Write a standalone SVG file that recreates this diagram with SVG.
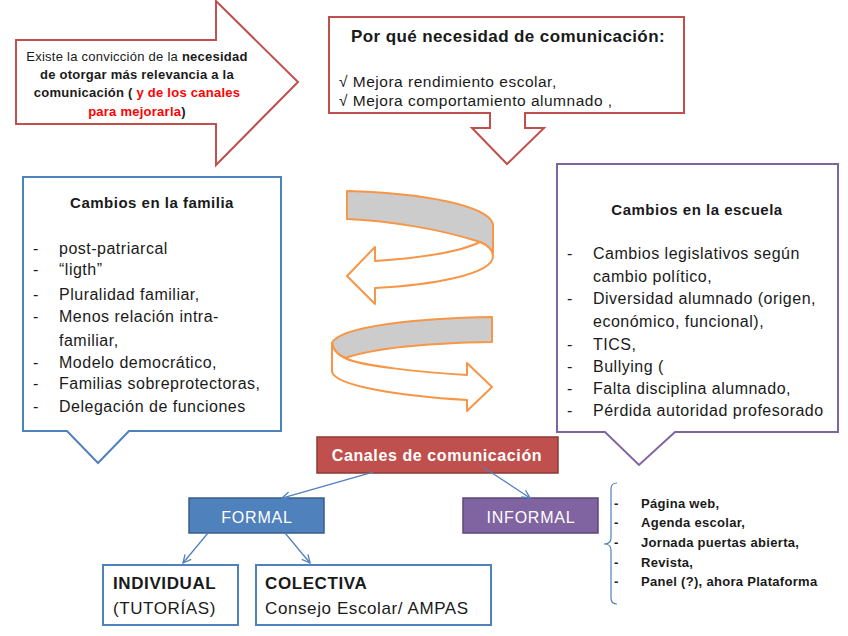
<svg xmlns="http://www.w3.org/2000/svg" width="848" height="636" viewBox="0 0 848 636">
<defs>
<style>
text{font-family:"Liberation Sans",Arial,sans-serif;fill:#1a1a1a}
.b{font-weight:bold}
.red{fill:#ff0000}
.intro{font-size:13px;letter-spacing:0.25px}
.item{font-size:16px;letter-spacing:0.5px}
.ttl{font-size:15px;font-weight:bold;letter-spacing:0.5px}
.inf{font-size:13px;font-weight:bold;letter-spacing:0.3px}
.box{font-size:17px;letter-spacing:0.6px}
.w{fill:#ffffff}
.conn{stroke:#4F81BD;stroke-width:1.3;fill:none}
.spiral{stroke:#F79646;stroke-width:2;stroke-linejoin:round}
</style>
<marker id="ah" viewBox="0 0 10 10" refX="9" refY="5" markerWidth="10" markerHeight="10" markerUnits="userSpaceOnUse" orient="auto">
<path d="M1,1 L9,5 L1,9" fill="none" stroke="#4F81BD" stroke-width="1.3"/>
</marker>
</defs>
<rect width="848" height="636" fill="#ffffff"/>

<g id="intro-arrow">
<path d="M16,40 H216 V1 L298,82 L216,165 V124 H16 Z" fill="#ffffff" stroke="#C0504D" stroke-width="2"/>
<text class="intro" x="137" y="60.5" text-anchor="middle">Existe la convicción de la <tspan class="b">necesidad</tspan></text>
<text class="intro b" x="137" y="78.5" text-anchor="middle">de otorgar más relevancia a la</text>
<text class="intro b" x="137" y="97" text-anchor="middle">comunicación ( <tspan class="red">y de los canales</tspan></text>
<text class="intro b" x="137" y="115.5" text-anchor="middle"><tspan class="red">para mejorarla</tspan>)</text>
</g>

<g id="why-box">
<path d="M329,17 H684 V113 H525 V128 H544 L507,164 L472,128 H490 V113 H329 Z" fill="#ffffff" stroke="#C0504D" stroke-width="2"/>
<text x="508" y="42" text-anchor="middle" style="font-size:17px;font-weight:bold;letter-spacing:0.4px">Por qué necesidad de comunicación:</text>
<text x="339" y="87" style="font-size:15.5px;letter-spacing:0.5px">√ Mejora rendimiento escolar,</text>
<text x="339" y="106" style="font-size:15.5px;letter-spacing:0.5px">√ Mejora comportamiento alumnado ,</text>
</g>

<g id="familia">
<path d="M23,177 H281 V431 H129 L98,463 L67,431 H23 Z" fill="#ffffff" stroke="#4F81BD" stroke-width="2"/>
<text class="ttl" x="152" y="208" text-anchor="middle">Cambios en la familia</text>
<g class="item">
<text class="item" x="33" y="254">-</text><text class="item" x="59" y="254">post-patriarcal</text>
<text class="item" x="33" y="275">-</text><text class="item" x="59" y="275">“ligth”</text>
<text class="item" x="33" y="300">-</text><text class="item" x="59" y="300">Pluralidad familiar,</text>
<text class="item" x="33" y="322">-</text><text class="item" x="59" y="322">Menos relación intra-</text>
<text class="item" x="59" y="346">familiar,</text>
<text class="item" x="33" y="368">-</text><text class="item" x="59" y="368">Modelo democrático,</text>
<text class="item" x="33" y="389">-</text><text class="item" x="59" y="389">Familias sobreprotectoras,</text>
<text class="item" x="33" y="412">-</text><text class="item" x="59" y="412">Delegación de funciones</text>
</g>
</g>

<g id="escuela">
<path d="M557,164 H838 V432 H675 L639,465 L605,432 H557 Z" fill="#ffffff" stroke="#8064A2" stroke-width="2"/>
<text class="ttl" x="697" y="215" text-anchor="middle">Cambios en la escuela</text>
<text class="item" x="567" y="259">-</text><text class="item" x="593" y="259">Cambios legislativos según</text>
<text class="item" x="593" y="282">cambio político,</text>
<text class="item" x="567" y="304">-</text><text class="item" x="593" y="304">Diversidad alumnado (origen,</text>
<text class="item" x="593" y="327">económico, funcional),</text>
<text class="item" x="567" y="350">-</text><text class="item" x="593" y="350">TICS,</text>
<text class="item" x="567" y="372">-</text><text class="item" x="593" y="372">Bullying (</text>
<text class="item" x="567" y="394">-</text><text class="item" x="593" y="394">Falta disciplina alumnado,</text>
<text class="item" x="567" y="416">-</text><text class="item" x="593" y="416">Pérdida autoridad profesorado</text>
</g>

<g id="spiral-top">
<path class="spiral" d="M347,191 C425,193 488,206 493,224 L493,253 C490,248 486,244 480,242 C440,229 390,221 347,219 Z" fill="#CCCCCC"/>
<path class="spiral" d="M480,242 C487,245 493,250 493,256 C493,275 430,285 375,288 L375,304 L347,276 L375,247 L375,261 C420,258 460,252 480,242 Z" fill="#ffffff"/>
</g>
<g id="spiral-bottom">
<path class="spiral" d="M492,317 C420,318 340,326 332,343 C333,350 338,355 345,358 C375,348 430,343 492,342 Z" fill="#CCCCCC"/>
<path class="spiral" d="M332,343 L332,372 C336,386 400,396 467,400 L467,411 L492,387 L467,363 L467,375 C420,372 360,366 345,358 C338,355 333,350 332,343 Z" fill="#ffffff"/>
</g>

<g id="canales">
<rect x="317" y="437" width="241" height="36" fill="#C0504D" stroke="#8C3836" stroke-width="1.5"/>
<text class="w b" x="437" y="461" text-anchor="middle" style="font-size:16px;letter-spacing:0.6px">Canales de comunicación</text>
</g>

<g id="formal">
<rect x="189" y="498" width="135" height="35" fill="#4F81BD" stroke="#385D8A" stroke-width="1.5"/>
<text class="w" x="257" y="523" text-anchor="middle" style="font-size:16px;letter-spacing:0.8px">FORMAL</text>
</g>

<g id="informal">
<rect x="463" y="498" width="135" height="35" fill="#8064A2" stroke="#5C4776" stroke-width="1.5"/>
<text class="w" x="531" y="523" text-anchor="middle" style="font-size:16px;letter-spacing:0.8px">INFORMAL</text>
</g>

<g id="individual">
<rect x="103" y="565" width="135" height="60" fill="#ffffff" stroke="#4F81BD" stroke-width="2"/>
<text class="box b" x="113" y="589">INDIVIDUAL</text>
<text class="box" x="113" y="614">(TUTORÍAS)</text>
</g>

<g id="colectiva">
<rect x="256" y="565" width="235" height="60" fill="#ffffff" stroke="#4F81BD" stroke-width="2"/>
<text class="box b" x="265" y="589">COLECTIVA</text>
<text class="box" x="265" y="614">Consejo Escolar/ AMPAS</text>
</g>

<g id="informal-list">
<path d="M617,483 Q611,483 611,489 L611,538 Q611,544 604,544 Q611,544 611,550 L611,598 Q611,604 617,604" fill="none" stroke="#4F81BD" stroke-width="1.2"/>
<text class="inf" x="614" y="507.5">-</text><text class="inf" x="641" y="507.5">Página web,</text>
<text class="inf" x="614" y="527">-</text><text class="inf" x="641" y="527">Agenda escolar,</text>
<text class="inf" x="614" y="547">-</text><text class="inf" x="641" y="547">Jornada puertas abierta,</text>
<text class="inf" x="614" y="566.5">-</text><text class="inf" x="641" y="566.5">Revista,</text>
<text class="inf" x="614" y="585.5">-</text><text class="inf" x="641" y="585.5">Panel (?), ahora Plataforma</text>
</g>

<g id="connectors">
<line class="conn" x1="373" y1="472" x2="282" y2="498" marker-end="url(#ah)"/>
<line class="conn" x1="483" y1="467" x2="530" y2="498" marker-end="url(#ah)"/>
<line class="conn" x1="208" y1="533" x2="183" y2="563" marker-end="url(#ah)"/>
<line class="conn" x1="285" y1="533" x2="310" y2="563" marker-end="url(#ah)"/>
</g>
</svg>
